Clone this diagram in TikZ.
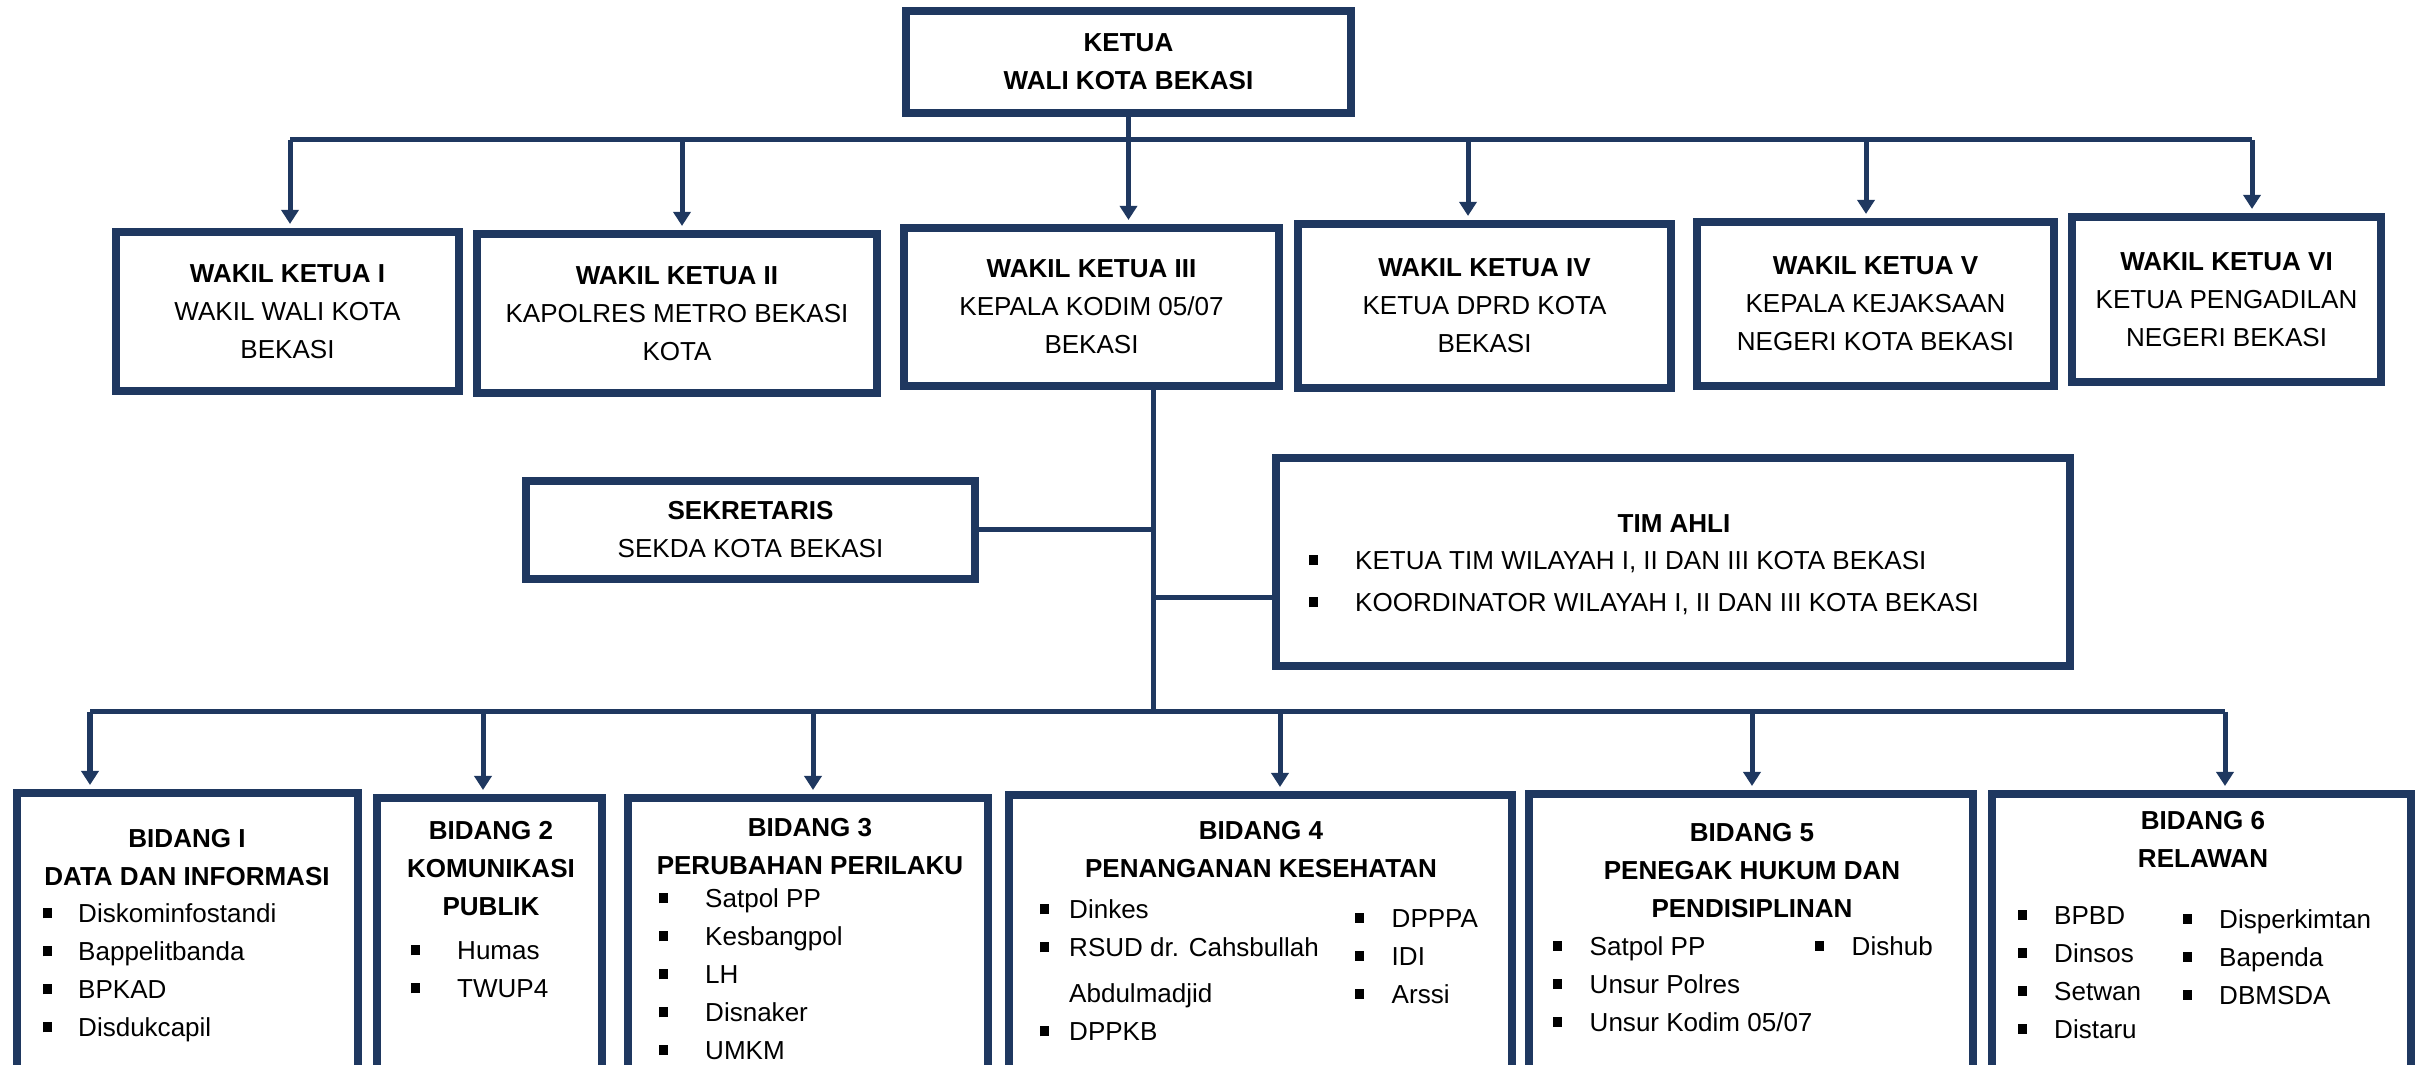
\documentclass[tikz,border=0pt]{standalone}
\usepackage{fontspec}
\setmainfont{Liberation Sans}
\usetikzlibrary{arrows.meta}
\usetikzlibrary{calc}
\definecolor{navy}{HTML}{1F3860}
\newcommand{\butir}[1][0.27cm]{\rule[1.2pt]{0.09cm}{0.1cm}\hspace{#1}}

\begin{document}
\begin{tikzpicture}[x=0.01cm, y=-0.01cm,
  kotak/.style={draw=navy, line width=0.08cm, fill=white, align=center, inner sep=0pt, font=\fontsize{7.4}{10.8}\selectfont},
  bidang/.style={kotak, anchor=north, minimum height=3.2cm},
  garis/.style={navy, line width=0.05cm},
  panah/.style={garis, -{Triangle[length=0.14cm, width=0.17cm]}, shorten >=0.04cm},
  judul/.style={inner sep=0pt, anchor=north, align=center, font=\fontsize{7.4}{10.8}\selectfont\bfseries},
  daftar/.style={inner sep=0pt, anchor=north west, align=left, font=\fontsize{7.4}{10.8}\selectfont}]

\useasboundingbox (0,0) rectangle (2417,1065);

% ketua dan wakil ketua
\node[kotak, minimum width=4.45cm, minimum height=1.02cm] (ketua) at (1128.5,62) {\textbf{KETUA}\\\textbf{WALI KOTA BEKASI}};

\node[kotak, minimum width=3.43cm, minimum height=1.59cm] (wk1) at (287.5,311.5) {\textbf{WAKIL KETUA I}\\WAKIL WALI KOTA\\BEKASI};
\node[kotak, minimum width=4.00cm, minimum height=1.59cm] (wk2) at (677,313.5) {\textbf{WAKIL KETUA II}\\KAPOLRES METRO BEKASI\\KOTA};
\node[kotak, minimum width=3.75cm, minimum height=1.58cm] (wk3) at (1091.5,307) {\textbf{WAKIL KETUA III}\\KEPALA KODIM 05/07\\BEKASI};
\node[kotak, minimum width=3.73cm, minimum height=1.64cm] (wk4) at (1484.5,306) {\textbf{WAKIL KETUA IV}\\KETUA DPRD KOTA\\BEKASI};
\node[kotak, minimum width=3.57cm, minimum height=1.64cm] (wk5) at (1875.5,304) {\textbf{WAKIL KETUA V}\\KEPALA KEJAKSAAN\\NEGERI KOTA BEKASI};
\node[kotak, minimum width=3.09cm, minimum height=1.65cm] (wk6) at (2226.5,299.5) {\textbf{WAKIL KETUA VI}\\KETUA PENGADILAN\\NEGERI BEKASI};

\coordinate (a1) at (290,140);
\coordinate (a2) at (682,140);
\coordinate (a4) at (1468,140);
\coordinate (a5) at (1866,140);
\coordinate (a6) at (2252,140);

\draw[garis] (a1) -- (a6);
\draw[panah] (ketua.south) -- (ketua.south |- wk3.north);
\draw[panah] (a1) -- (a1 |- wk1.north);
\draw[panah] (a2) -- (a2 |- wk2.north);
\draw[panah] (a4) -- (a4 |- wk4.north);
\draw[panah] (a5) -- (a5 |- wk5.north);
\draw[panah] (a6) -- (a6 |- wk6.north);

% sekretaris dan tim ahli
\node[kotak, minimum width=4.48cm, minimum height=0.98cm] (sek) at (750.5,530) {\textbf{SEKRETARIS}\\SEKDA KOTA BEKASI};
\node[kotak, minimum width=7.94cm, minimum height=2.08cm] (tim) at (1673,562) {};
\node[judul] (timj) at (1674,513.5) {TIM AHLI};
\node[daftar] (timd) at (1308.5,550.5) {\butir[0.37cm]KETUA TIM WILAYAH I, II DAN III KOTA BEKASI\\[0.04cm]
  \butir[0.37cm]KOORDINATOR WILAYAH I, II DAN III KOTA BEKASI};

\coordinate (j) at (1153,712);
\coordinate (timin) at ([yshift=-0.35cm]tim.west);
\draw[garis] (j |- wk3.south) -- (j);
\draw[garis] (sek.east) -- (sek.east -| j);
\draw[garis] (timin -| j) -- (timin);

% bidang
\node[bidang, minimum width=3.41cm] (b1) at (187.5,789) {};
\node[bidang, minimum width=2.25cm] (b2) at (489.5,794) {};
\node[bidang, minimum width=3.60cm] (b3) at (808,794) {};
\node[bidang, minimum width=5.03cm] (b4) at (1260.5,791) {};
\node[bidang, minimum width=4.44cm] (b5) at (1751,790) {};
\node[bidang, minimum width=4.19cm] (b6) at (2201.5,790) {};

\coordinate (c1) at (90,712);
\coordinate (c2) at (483,712);
\coordinate (c3) at (813,712);
\coordinate (c4) at (1280,712);
\coordinate (c5) at (1752,712);
\coordinate (c6) at (2225,712);

\draw[garis] (c1) -- (c6);
\draw[panah] (c1) -- (c1 |- b1.north);
\draw[panah] (c2) -- (c2 |- b2.north);
\draw[panah] (c3) -- (c3 |- b3.north);
\draw[panah] (c4) -- (c4 |- b4.north);
\draw[panah] (c5) -- (c5 |- b5.north);
\draw[panah] (c6) -- (c6 |- b6.north);

\node[judul] (b1j) at (187,829) {BIDANG I\\DATA DAN INFORMASI};
\node[daftar] (b1d) at (42.5,903) {\butir[0.26cm]Diskominfostandi\\\butir[0.26cm]Bappelitbanda\\
  \butir[0.26cm]BPKAD\\\butir[0.26cm]Disdukcapil};

\node[judul] (b2j) at (491,821) {BIDANG 2\\KOMUNIKASI\\PUBLIK};
\node[daftar] (b2d) at (410.5,941) {\butir[0.37cm]Humas\\\butir[0.37cm]TWUP4};

\node[judul] (b3j) at (810,818) {BIDANG 3\\PERUBAHAN PERILAKU};
\node[daftar] (b3d) at (658.5,888) {\butir[0.37cm]Satpol PP\\\butir[0.37cm]Kesbangpol\\\butir[0.37cm]LH\\
  \butir[0.37cm]Disnaker\\\butir[0.37cm]UMKM};

\node[judul] (b4j) at (1261,821) {BIDANG 4\\PENANGANAN KESEHATAN};
\node[daftar] (b4d) at (1039.5,899) {\butir[0.2cm]Dinkes\\\butir[0.2cm]RSUD dr. Cahsbullah\\[0.08cm]
  \hspace*{0.29cm}Abdulmadjid\\\butir[0.2cm]DPPKB};
\node[daftar] (b4e) at (1354.5,908.5) {\butir[0.275cm]DPPPA\\\butir[0.275cm]IDI\\\butir[0.275cm]Arssi};

\node[judul] (b5j) at (1752,823) {BIDANG 5\\PENEGAK HUKUM DAN\\PENDISIPLINAN};
\node[daftar] (b5d) at (1552.5,935.5) {\butir[0.275cm]Satpol PP\\\butir[0.275cm]Unsur Polres\\
  \butir[0.275cm]Unsur Kodim 05/07};
\node[daftar] (b5e) at (1814.5,935.5) {\butir[0.275cm]Dishub};

\node[judul] (b6j) at (2203,811) {BIDANG 6\\RELAWAN};
\node[daftar] (b6d) at (2017.5,905.5) {\butir[0.27cm]BPBD\\\butir[0.27cm]Dinsos\\\butir[0.27cm]Setwan\\
  \butir[0.27cm]Distaru};
\node[daftar] (b6e) at (2182.5,908.5) {\butir[0.27cm]Disperkimtan\\\butir[0.27cm]Bapenda\\\butir[0.27cm]DBMSDA};

\end{tikzpicture}
\end{document}
